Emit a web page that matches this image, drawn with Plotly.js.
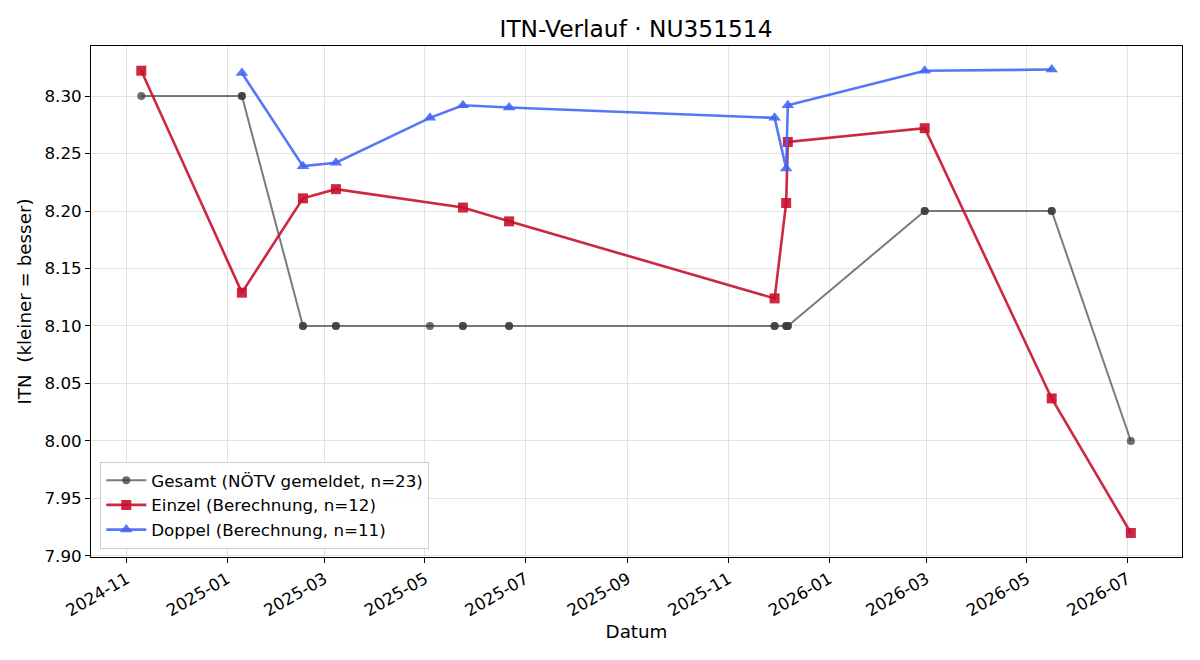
<!DOCTYPE html>
<html>
<head>
<meta charset="utf-8">
<script src="https://cdn.plot.ly/plotly-3.0.1.min.js"></script>
<style>html,body{margin:0;padding:0;background:#fff;}#chart{width:1200px;height:660px;}</style>
</head>
<body>
<div id="chart"></div>
<script>
// Gesamt (NÖTV gemeldet) — one entry per reported value (duplicate dates overlap)
const gesamtDates = ["2024-11-10","2025-01-10","2025-01-10","2025-02-16","2025-02-16","2025-03-08","2025-03-08","2025-05-04","2025-05-24","2025-05-24","2025-06-21","2025-06-21","2025-11-29","2025-11-29","2025-12-06","2025-12-06","2025-12-07","2025-12-07","2026-02-28","2026-02-28","2026-05-16","2026-05-16","2026-07-03"];
const gesamtValues = [8.30,8.30,8.30,8.10,8.10,8.10,8.10,8.10,8.10,8.10,8.10,8.10,8.10,8.10,8.10,8.10,8.10,8.10,8.20,8.20,8.20,8.20,8.00];

// Einzel (Berechnung)
const einzelDates = ["2024-11-10","2025-01-10","2025-02-16","2025-03-08","2025-05-24","2025-06-21","2025-11-29","2025-12-06","2025-12-07","2026-02-28","2026-05-16","2026-07-03"];
const einzelValues = [8.322,8.129,8.211,8.219,8.203,8.191,8.124,8.207,8.260,8.272,8.037,7.920];

// Doppel (Berechnung)
const doppelDates = ["2025-01-10","2025-02-16","2025-03-08","2025-05-04","2025-05-24","2025-06-21","2025-11-29","2025-12-06","2025-12-07","2026-02-28","2026-05-16"];
const doppelValues = [8.320,8.239,8.242,8.281,8.292,8.290,8.281,8.237,8.292,8.322,8.323];

const FONT = "DejaVu Sans, Verdana, sans-serif";

const traces = [
  {
    x: gesamtDates, y: gesamtValues, type: "scatter", mode: "lines+markers",
    name: "Gesamt (NÖTV gemeldet, n=23)", legendgroup: "a",
    line: {color: "rgba(60,60,60,0.68)", width: 2},
    marker: {symbol: "circle", size: 8, color: "rgba(60,60,60,0.75)", line: {width: 0}}
  },
  {
    x: einzelDates, y: einzelValues, type: "scatter", mode: "lines+markers",
    name: "Einzel (Berechnung, n=12)", legendgroup: "b",
    line: {color: "rgba(200,16,46,0.9)", width: 2.6},
    marker: {symbol: "square", size: 10, color: "rgba(200,16,46,0.9)", line: {width: 0}}
  },
  {
    x: doppelDates, y: doppelValues, type: "scatter", mode: "lines+markers",
    name: "Doppel (Berechnung, n=11)", legendgroup: "c",
    line: {color: "rgba(65,100,245,0.88)", width: 2.6},
    marker: {symbol: "triangle-up", size: 11, color: "rgba(65,100,245,0.88)", line: {width: 0}}
  }
];

const layout = {
  width: 1200, height: 660,
  paper_bgcolor: "#ffffff", plot_bgcolor: "#ffffff",
  font: {family: FONT, size: 16.7, color: "#000"},
  margin: {l: 91, r: 18, t: 46, b: 103},
  title: {text: "ITN-Verlauf · NU351514", x: 0.53, xanchor: "center", y: 0.957, yanchor: "middle",
          font: {family: FONT, size: 23.3, color: "#000"}},
  showlegend: true,
  legend: {
    x: 0.0085, y: 0.016, xanchor: "left", yanchor: "bottom",
    bgcolor: "rgba(255,255,255,0.85)", bordercolor: "#cccccc", borderwidth: 1,
    font: {family: FONT, size: 16.7, color: "#000"},
    tracegroupgap: 5, traceorder: "normal", itemwidth: 40
  },
  xaxis: {
    type: "date",
    range: ["2024-10-10 12:00", "2026-08-03"],
    tick0: "2024-11-01", dtick: "M2", tickformat: "%Y-%m",
    tickangle: -30,
    ticks: "outside", ticklen: 5, tickwidth: 1, tickcolor: "#000",
    showline: true, linecolor: "#000", linewidth: 1, mirror: true,
    showgrid: true, gridcolor: "rgba(176,176,176,0.35)", gridwidth: 1,
    zeroline: false,
    tickfont: {family: FONT, size: 16.7, color: "#000"},
    title: {text: "Datum", font: {family: FONT, size: 18.3, color: "#000"}, standoff: 5}
  },
  yaxis: {
    range: [7.8991, 8.3435],
    tick0: 7.90, dtick: 0.05, tickformat: ".2f",
    ticks: "outside", ticklen: 5, tickwidth: 1, tickcolor: "#000",
    showline: true, linecolor: "#000", linewidth: 1, mirror: true,
    showgrid: true, gridcolor: "rgba(176,176,176,0.35)", gridwidth: 1,
    zeroline: false,
    tickfont: {family: FONT, size: 16.7, color: "#000"},
    title: {text: "ITN\u00a0 (kleiner = besser)", font: {family: FONT, size: 18.3, color: "#000"}, standoff: 8}
  }
};

Plotly.newPlot("chart", traces, layout, {displayModeBar: false, staticPlot: true});
</script>
</body>
</html>
